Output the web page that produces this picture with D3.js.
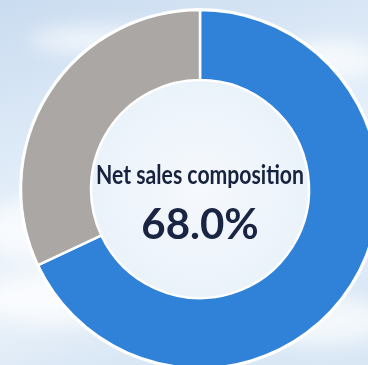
<!DOCTYPE html>
<html>
<head>
<meta charset="utf-8">
<script src="https://cdn.jsdelivr.net/npm/d3@7"></script>
<style>
html,body{margin:0;padding:0;overflow:hidden;background:#e4eef8;}
</style>
</head>
<body>
<svg id="chart" width="368" height="365"></svg>
<script>
const categories = ["Segment", "Other"];
const values = [68.0, 32.0];
const colors = ["#2f82d8", "#aaa7a5"];
const titleText = "Net sales composition";
const valueLabel = "68.0%";

const svg = d3.select("#chart");
const W = 368, H = 365;
const defs = svg.append("defs");

// background sky
const bg = defs.append("linearGradient").attr("id","sky").attr("x1",0).attr("y1",0).attr("x2",0.3).attr("y2",1);
bg.append("stop").attr("offset","0%").attr("stop-color","#cadcf0");
bg.append("stop").attr("offset","45%").attr("stop-color","#e0ecf8");
bg.append("stop").attr("offset","75%").attr("stop-color","#eef4fb");
bg.append("stop").attr("offset","100%").attr("stop-color","#d9e7f5");
svg.append("rect").attr("width",W).attr("height",H).attr("fill","url(#sky)");

const blur = defs.append("filter").attr("id","blur").attr("x","-50%").attr("y","-50%").attr("width","200%").attr("height","200%");
blur.append("feGaussianBlur").attr("stdDeviation",10);
const clouds = [[40,230,60,30],[60,300,80,25],[320,320,70,25],[330,60,50,20],[100,40,70,12]];
svg.append("g").attr("filter","url(#blur)").selectAll("ellipse").data(clouds).join("ellipse")
  .attr("cx",d=>d[0]).attr("cy",d=>d[1]).attr("rx",d=>d[2]).attr("ry",d=>d[3])
  .attr("fill","#ffffff").attr("opacity",0.7);

const cx = 200, cy = 189, R = 179, r = 109;
const pie = d3.pie().sort(null).value(d => d);
const arc = d3.arc().innerRadius(r).outerRadius(R);
const g = svg.append("g").attr("transform", `translate(${cx},${cy})`);

// inner hole light
const hole = defs.append("radialGradient").attr("id","hole");
hole.append("stop").attr("offset","0%").attr("stop-color","#f6f9fd");
hole.append("stop").attr("offset","100%").attr("stop-color","#eaf2fa");
g.append("circle").attr("r", r).attr("fill","url(#hole)");

g.append("circle").attr("r", R + 1).attr("fill","none").attr("stroke","#ffffff").attr("stroke-width",2).attr("opacity",0.9);

g.selectAll("path.slice").data(pie(values)).join("path")
  .attr("class","slice")
  .attr("d", arc)
  .attr("fill", (d,i) => colors[i])
  .attr("stroke","#ffffff").attr("stroke-width",2.5).attr("stroke-linejoin","round");

g.append("text").attr("x",0).attr("y",-5)
  .attr("text-anchor","middle")
  .attr("font-family","Lato, 'Open Sans', sans-serif")
  .attr("font-size",26).attr("font-weight",700)
  .attr("fill","#17223f")
  .attr("textLength",208).attr("lengthAdjust","spacingAndGlyphs")
  .text(titleText);

g.append("text").attr("x",0).attr("y",50)
  .attr("text-anchor","middle")
  .attr("font-family","Lato, 'Open Sans', sans-serif")
  .attr("font-size",42).attr("font-weight",700)
  .attr("fill","#1a2543")
  .text(valueLabel);
</script>
</body>
</html>
